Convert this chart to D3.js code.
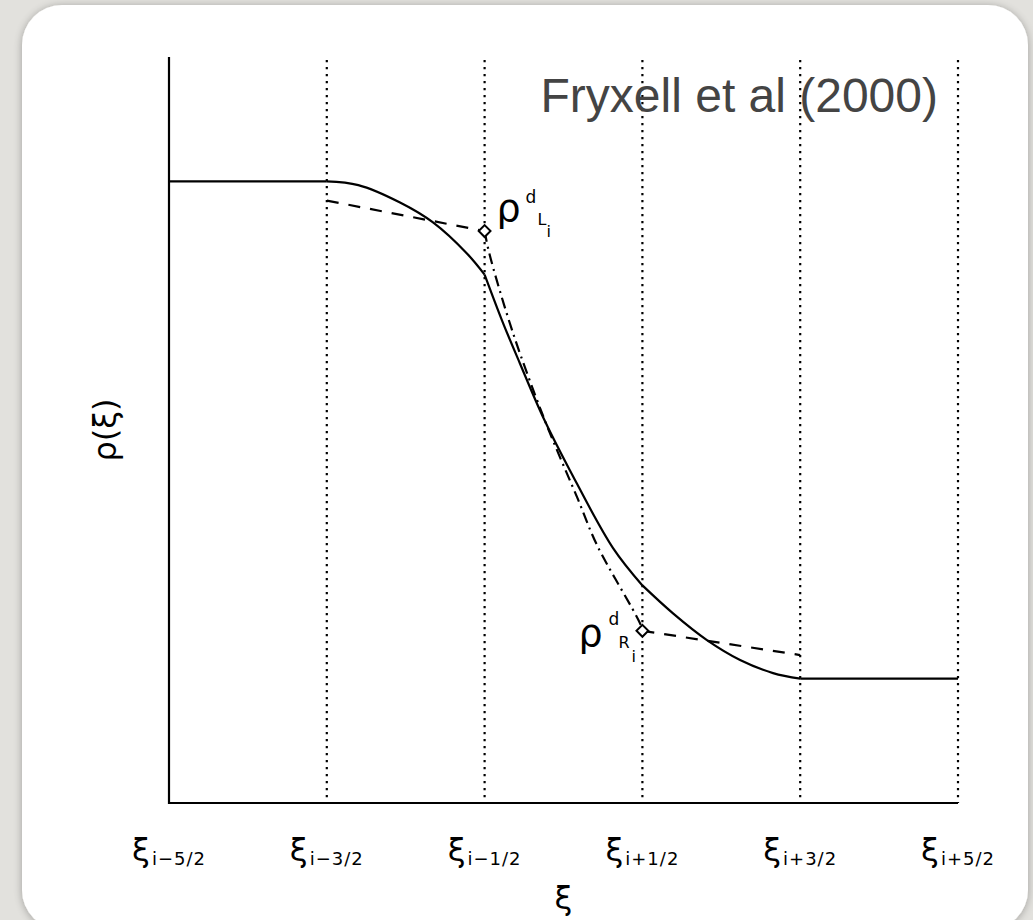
<!DOCTYPE html>
<html>
<head>
<meta charset="utf-8">
<script src="https://cdn.jsdelivr.net/npm/d3@7"></script>
<style>
  html, body { margin: 0; padding: 0; background: #e2e1dd; }
  svg { display: block; }
</style>
</head>
<body>
<div id="chart"></div>
<script>
(function() {
  //// Data (x in cell-interface units, y in density units)
  const interfaces = [0, 1, 2, 3, 4, 5];
  const tickLabels = ["i−5/2", "i−3/2", "i−1/2", "i+1/2", "i+3/2", "i+5/2"];

  // Solid profile, one piece per cell
  const profileLeft = [[0, 1], [1, 1]];
  const profileCell1 = [[1, 1], [1.2, 0.994], [1.464, 0.966], [1.673, 0.934], [1.888, 0.884], [2, 0.85]];
  const profileCell2 = [[2, 0.85], [2.117, 0.772], [2.224, 0.707], [2.37, 0.621], [2.541, 0.535], [2.814, 0.41], [3, 0.35]];
  const profileCell3 = [[3, 0.35], [3.194, 0.305], [3.409, 0.262], [3.619, 0.23], [3.828, 0.209], [4, 0.2]];
  const profileRight = [[4, 0.2], [5, 0.2]];

  // Dashed lines towards the interface values
  const dashedLeft = [[1, 0.969], [2, 0.92]];
  const dashedRight = [[3, 0.277], [4, 0.238]];

  // Dash-dot line between the two interface values
  const dashDot = [[2, 0.92], [2.03, 0.884], [2.18, 0.756], [2.364, 0.627], [2.478, 0.556], [2.586, 0.492], [2.712, 0.415], [2.985, 0.289], [3, 0.277]];

  // Interface values (diamonds) and their labels
  const interfacePoints = [
    { x: 2, y: 0.92, side: "L" },
    { x: 3, y: 0.277, side: "R" }
  ];

  //// Setup
  const svgWidth = 1033;
  const svgHeight = 920;
  const x = d3.scaleLinear().domain([0, 5]).range([169, 958]);
  const y = d3.scaleLinear().domain([0, 1.2]).range([803, 57]);
  const font = "'DejaVu Sans', sans-serif";

  const svg = d3
    .select("#chart")
    .append("svg")
    .attr("width", svgWidth)
    .attr("height", svgHeight);

  const defs = svg.append("defs");
  const shadow = defs.append("filter").attr("id", "shadow")
    .attr("x", "-5%").attr("y", "-5%").attr("width", "110%").attr("height", "110%");
  shadow.append("feGaussianBlur").attr("in", "SourceAlpha").attr("stdDeviation", 4);
  shadow.append("feOffset").attr("dx", 0).attr("dy", 1).attr("result", "blur");
  shadow.append("feComponentTransfer").call(t =>
    t.append("feFuncA").attr("type", "linear").attr("slope", 0.3)
  );
  shadow.append("feMerge").call(m => {
    m.append("feMergeNode");
    m.append("feMergeNode").attr("in", "SourceGraphic");
  });

  // Card
  svg.append("rect")
    .attr("x", 22).attr("y", 5)
    .attr("width", 1006).attr("height", 925)
    .attr("rx", 40)
    .attr("fill", "#fff")
    .attr("filter", "url(#shadow)");

  const g = svg.append("g");

  // Dotted interface lines
  g.append("g")
    .selectAll("line")
    .data(interfaces.slice(1))
    .join("line")
    .attr("x1", d => x(d)).attr("x2", d => x(d))
    .attr("y1", y(1.195)).attr("y2", y(0))
    .attr("stroke", "#000")
    .attr("stroke-width", 2.2)
    .attr("stroke-dasharray", "2.2,4.8");

  // Axes
  g.append("path")
    .attr("d", `M${x(0)},${y(1.2)}V${y(0)}H${x(5)}`)
    .attr("fill", "none")
    .attr("stroke", "#000")
    .attr("stroke-width", 2.2);

  const line = d3.line().x(d => x(d[0])).y(d => y(d[1])).curve(d3.curveCatmullRom);

  // Profile
  g.append("g")
    .selectAll("path")
    .data([profileLeft, profileCell1, profileCell2, profileCell3, profileRight])
    .join("path")
    .attr("d", line)
    .attr("fill", "none")
    .attr("stroke", "#000")
    .attr("stroke-width", 2.2);

  g.append("g")
    .selectAll("path")
    .data([dashedLeft, dashedRight])
    .join("path")
    .attr("d", d3.line().x(d => x(d[0])).y(d => y(d[1])))
    .attr("fill", "none")
    .attr("stroke", "#000")
    .attr("stroke-width", 2.2)
    .attr("stroke-dasharray", "12,10");

  g.append("path")
    .attr("d", line(dashDot))
    .attr("fill", "none")
    .attr("stroke", "#000")
    .attr("stroke-width", 2.2)
    .attr("stroke-dasharray", "11,5,2,5");

  // Diamonds
  g.append("g")
    .selectAll("path")
    .data(interfacePoints)
    .join("path")
    .attr("d", d3.symbol(d3.symbolSquare, 70))
    .attr("transform", d => `translate(${x(d.x)},${y(d.y)}) rotate(45)`)
    .attr("fill", "#fff")
    .attr("stroke", "#000")
    .attr("stroke-width", 2);

  // Point labels: rho, superscript d, side subscript, i
  const labelOffsets = {
    L: { rho: [12, -10], d: [41, -28], s: [53, -6], i: [62, 6] },
    R: { rho: [-64, 15], d: [-34, -6], s: [-24, 17], i: [-11, 31] }
  };
  interfacePoints.forEach(p => {
    const o = labelOffsets[p.side];
    const px = x(p.x);
    const py = y(p.y);
    const lab = g.append("g").attr("font-family", font).attr("fill", "#000");
    lab.append("text").attr("x", px + o.rho[0]).attr("y", py + o.rho[1])
      .attr("font-size", 38).text("ρ");
    lab.append("text").attr("x", px + o.d[0]).attr("y", py + o.d[1])
      .attr("font-size", 17).text("d");
    lab.append("text").attr("x", px + o.s[0]).attr("y", py + o.s[1])
      .attr("font-size", 16).text(p.side);
    lab.append("text").attr("x", px + o.i[0]).attr("y", py + o.i[1])
      .attr("font-size", 16).text("i");
  });

  // Tick labels
  g.append("g")
    .selectAll("text")
    .data(interfaces)
    .join("text")
    .attr("x", d => x(d))
    .attr("y", 861)
    .attr("text-anchor", "middle")
    .attr("font-family", font)
    .call(t => t.append("tspan").attr("font-size", 32).text("ξ"))
    .call(t =>
      t.append("tspan")
        .attr("font-size", 18)
        .attr("dy", 4)
        .attr("dx", 2)
        .attr("letter-spacing", 1)
        .text((d, i) => tickLabels[i])
    );

  // Axis titles
  g.append("text")
    .attr("x", x(2.5))
    .attr("y", 909)
    .attr("text-anchor", "middle")
    .attr("font-family", font)
    .attr("font-size", 32)
    .text("ξ");

  g.append("text")
    .attr("transform", `translate(105,${y(0.6)}) rotate(-90)`)
    .attr("text-anchor", "middle")
    .attr("dy", "0.35em")
    .attr("font-family", font)
    .attr("font-size", 32)
    .text("ρ(ξ)");

  // Title
  g.append("text")
    .attr("x", 938)
    .attr("y", 112)
    .attr("text-anchor", "end")
    .attr("font-family", "'Liberation Sans', Arial, sans-serif")
    .attr("font-size", 48)
    .attr("fill", "#444")
    .text("Fryxell et al (2000)");
})();
</script>
</body>
</html>
